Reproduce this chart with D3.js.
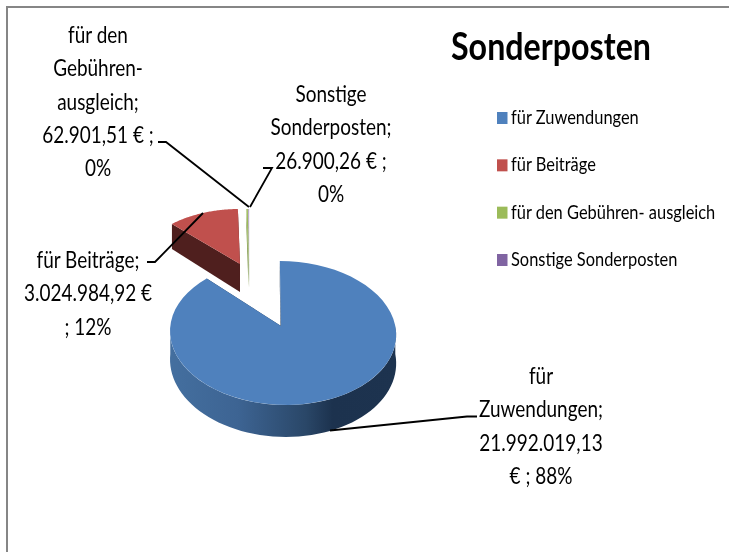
<!DOCTYPE html>
<html><head><meta charset="utf-8">
<script src="https://cdn.jsdelivr.net/npm/d3@7/dist/d3.min.js"></script>
<style>html,body{margin:0;background:#fff}svg{display:block;filter:blur(.35px)}text{font-family:Lato,"Open Sans",sans-serif;fill:#000}</style>
</head><body><svg id="c" width="729" height="552"></svg>
<script>
const categories=["für Zuwendungen","für Beiträge","für den Gebühren- ausgleich","Sonstige Sonderposten"];
const values=[21992019.13,3024984.92,62901.51,26900.26];
const colors=["#4f81bd","#c0504d","#9bbb59","#8064a2"];
const sideColors=["#2d4d73","#4f1f1e","#7d9646","#6b7f4a"];
const titleText="Sonderposten";
const labelLines=[
 ["für","Zuwendungen;","21.992.019,13","€ ; 88%"],
 ["für Beiträge;","3.024.984,92 €","; 12%"],
 ["für den","Gebühren-","ausgleich;","62.901,51 € ;","0%"],
 ["Sonstige","Sonderposten;","26.900,26 € ;","0%"]];

const svg=d3.select("#c"),W=729,H=552;
svg.append("path").attr("d",`M7,552V7H729`).attr("fill","none").attr("stroke","#868686").attr("stroke-width",2);
const defs=svg.append("defs");
const g=defs.append("linearGradient").attr("id","blueSide").attr("gradientUnits","userSpaceOnUse").attr("x1",170).attr("x2",396).attr("y1",0).attr("y2",0);
[[0,"#446f9f"],[.3,"#3d6493"],[.6,"#2a4768"],[.72,"#1c324e"],[1,"#1d334f"]].forEach(s=>g.append("stop").attr("offset",s[0]).attr("stop-color",s[1]));

const arcs=d3.pie().sort(null).value(d=>d)(values);
// placement of each exploded slice: apex, radii, depth
const place=[
 {cx:282.8,ax:-1.8,cy:326,w:112.5,h:71.3,k:.097,sh:3,d:28},
 {cx:240,ax:0,cy:264,w:103,h:60,k:.09,sh:0,d:28},
 {cx:248.5,ax:0,cy:264,w:103,h:60,k:.09,sh:0,d:23},
 {cx:249.1,ax:0,cy:264,w:103,h:60,k:.09,sh:0,d:23}];
function pt(p,a,r,dz){const c=Math.sin(a),s=-Math.cos(a),q=1-p.k*s*r;
  return [p.cx+(r?p.w*c*r/q+p.sh*s*r:p.ax),p.cy+p.h*s*r/q+(dz?p.d+4*s*r:0)];}
const line=d3.line();
const sampled=(a0,a1)=>d3.range(0,61).map(i=>a0+(a1-a0)*i/60);
[3,2,1,0].forEach(i=>drawSlice(arcs[i],i));
function drawSlice(a,i){
  const p=place[i],s=svg.append("g");
  const sideFill=i==0?"url(#blueSide)":sideColors[i];
  [a.startAngle,a.endAngle].forEach(t=>{
    s.append("path").attr("d",line([pt(p,t,0,0),pt(p,t,1,0),pt(p,t,1,1),pt(p,t,0,1)])+"Z").attr("fill",i==0?"#1c324e":sideColors[i]);
  });
  const lo=Math.max(a.startAngle,Math.PI/2),hi=Math.min(a.endAngle,Math.PI*1.5);
  if(hi>lo){const as=sampled(lo,hi);
    s.append("path").attr("d",line(as.map(t=>pt(p,t,1,0)).concat(as.slice().reverse().map(t=>pt(p,t,1,1))))+"Z").attr("fill",sideFill);}
  const as=sampled(a.startAngle,a.endAngle);
  const top=[pt(p,a.startAngle,0,0)].concat(as.map(t=>pt(p,t,1,0)));
  s.append("path").attr("d",line(top)+"Z").attr("fill",colors[i]);
}

// leader lines
const leaders=[
 [[330,430.5],[467,416.5],[477,416.5]],
 [[147,262],[155,262],[203,213]],
 [[158,142],[166,142],[249,207]],
 [[263,168],[272,168],[250,207]]];
leaders.forEach(l=>svg.append("path").attr("d",line(l)).attr("fill","none").attr("stroke","#000").attr("stroke-width",1.8));

// data labels
const labelPos=[{x:541,y:384},{x:88,y:268},{x:98,y:43},{x:331,y:102}];
labelLines.forEach((ls,i)=>{
  ls.forEach((t,j)=>svg.append("text").attr("x",labelPos[i].x).attr("y",labelPos[i].y+j*33.3)
    .attr("text-anchor","middle").attr("font-size",23).attr("transform-origin",`${labelPos[i].x} 0`).attr("transform","scale(.825,1)").text(t));
});
// title
svg.append("text").attr("x",451).attr("y",60).attr("font-size",38).attr("font-weight",700).attr("textLength",200).attr("lengthAdjust","spacingAndGlyphs").text(titleText);
// legend
const ly=d3.scalePoint().domain(categories).range([118,260]);
categories.forEach((c,i)=>{
  svg.append("rect").attr("x",497).attr("y",ly(c)-6).attr("width",10.5).attr("height",12).attr("fill",colors[i]);
  svg.append("text").attr("x",511).attr("y",ly(c)+6).attr("font-size",19).attr("transform-origin","511 0").attr("transform","scale(.865,1)").text(c);
});
</script></body></html>
